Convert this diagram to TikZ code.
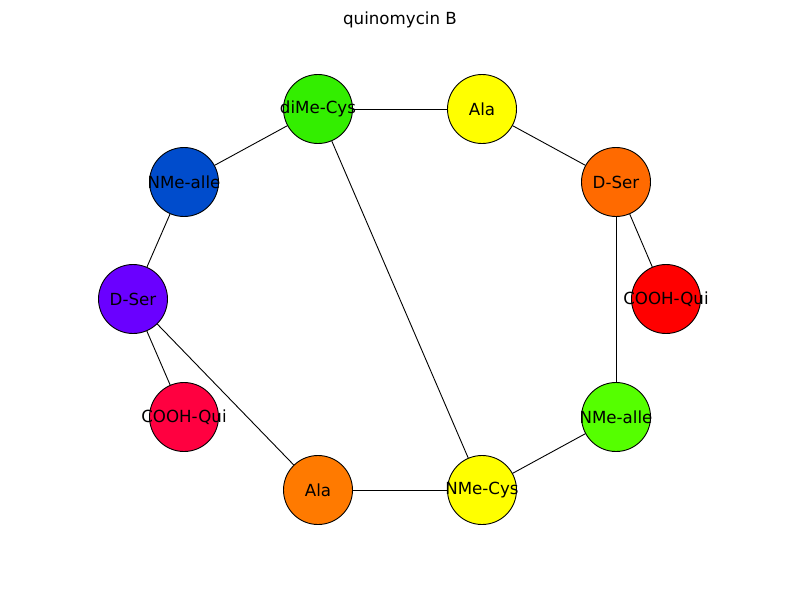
\documentclass[tikz,border=0pt]{standalone}
\usepackage{fontspec}
\setmainfont{DejaVu Sans}
\definecolor{cgreen}{HTML}{33EE00}
\definecolor{cyel}{HTML}{FFFF00}
\definecolor{cblue}{HTML}{004CCC}
\definecolor{corange}{HTML}{FF6A00}
\definecolor{cpurple}{HTML}{6A00FF}
\definecolor{cred}{HTML}{FF0000}
\definecolor{cpink}{HTML}{FF0040}
\definecolor{clime}{HTML}{55FF00}
\definecolor{corange2}{HTML}{FF7A00}
\begin{document}
\begin{tikzpicture}[x=1pt,y=-1pt,
  nd/.style={circle,draw=black,line width=0.9pt,minimum size=69pt,inner sep=0pt},
  every label/.style={font=\fontsize{16.67}{20}\selectfont,inner sep=0pt},
  ed/.style={draw=black,line width=0.9pt}]
\useasboundingbox (0,0) rectangle (800,600);
\node[font=\fontsize{16.67}{20}\selectfont] (title) at (400,20) {quinomycin B};
\node[nd,fill=cgreen,label={center:diMe-Cys}] (dmc) at (318,109) {};
\node[nd,fill=cyel,label={center:Ala}] (ala1) at (482,109) {};
\node[nd,fill=cblue,label={center:NMe-alle}] (nma1) at (184,182) {};
\node[nd,fill=corange,label={center:D-Ser}] (ds1) at (616,182) {};
\node[nd,fill=cpurple,label={center:D-Ser}] (ds2) at (133,299) {};
\node[nd,fill=cred,label={center:COOH-Qui}] (cq1) at (666,299) {};
\node[nd,fill=cpink,label={center:COOH-Qui}] (cq2) at (184,417) {};
\node[nd,fill=clime,label={center:NMe-alle}] (nma2) at (616,417) {};
\node[nd,fill=corange2,label={center:Ala}] (ala2) at (318,490) {};
\node[nd,fill=cyel,label={center:NMe-Cys}] (nmc) at (482,490) {};
\draw[ed] (dmc) -- (ala1);
\draw[ed] (ala1) -- (ds1);
\draw[ed] (ds1) -- (cq1);
\draw[ed] (ds1) -- (nma2);
\draw[ed] (nma2) -- (nmc);
\draw[ed] (nmc) -- (ala2);
\draw[ed] (ala2) -- (ds2);
\draw[ed] (ds2) -- (cq2);
\draw[ed] (ds2) -- (nma1);
\draw[ed] (nma1) -- (dmc);
\draw[ed] (dmc) -- (nmc);
\end{tikzpicture}
\end{document}
